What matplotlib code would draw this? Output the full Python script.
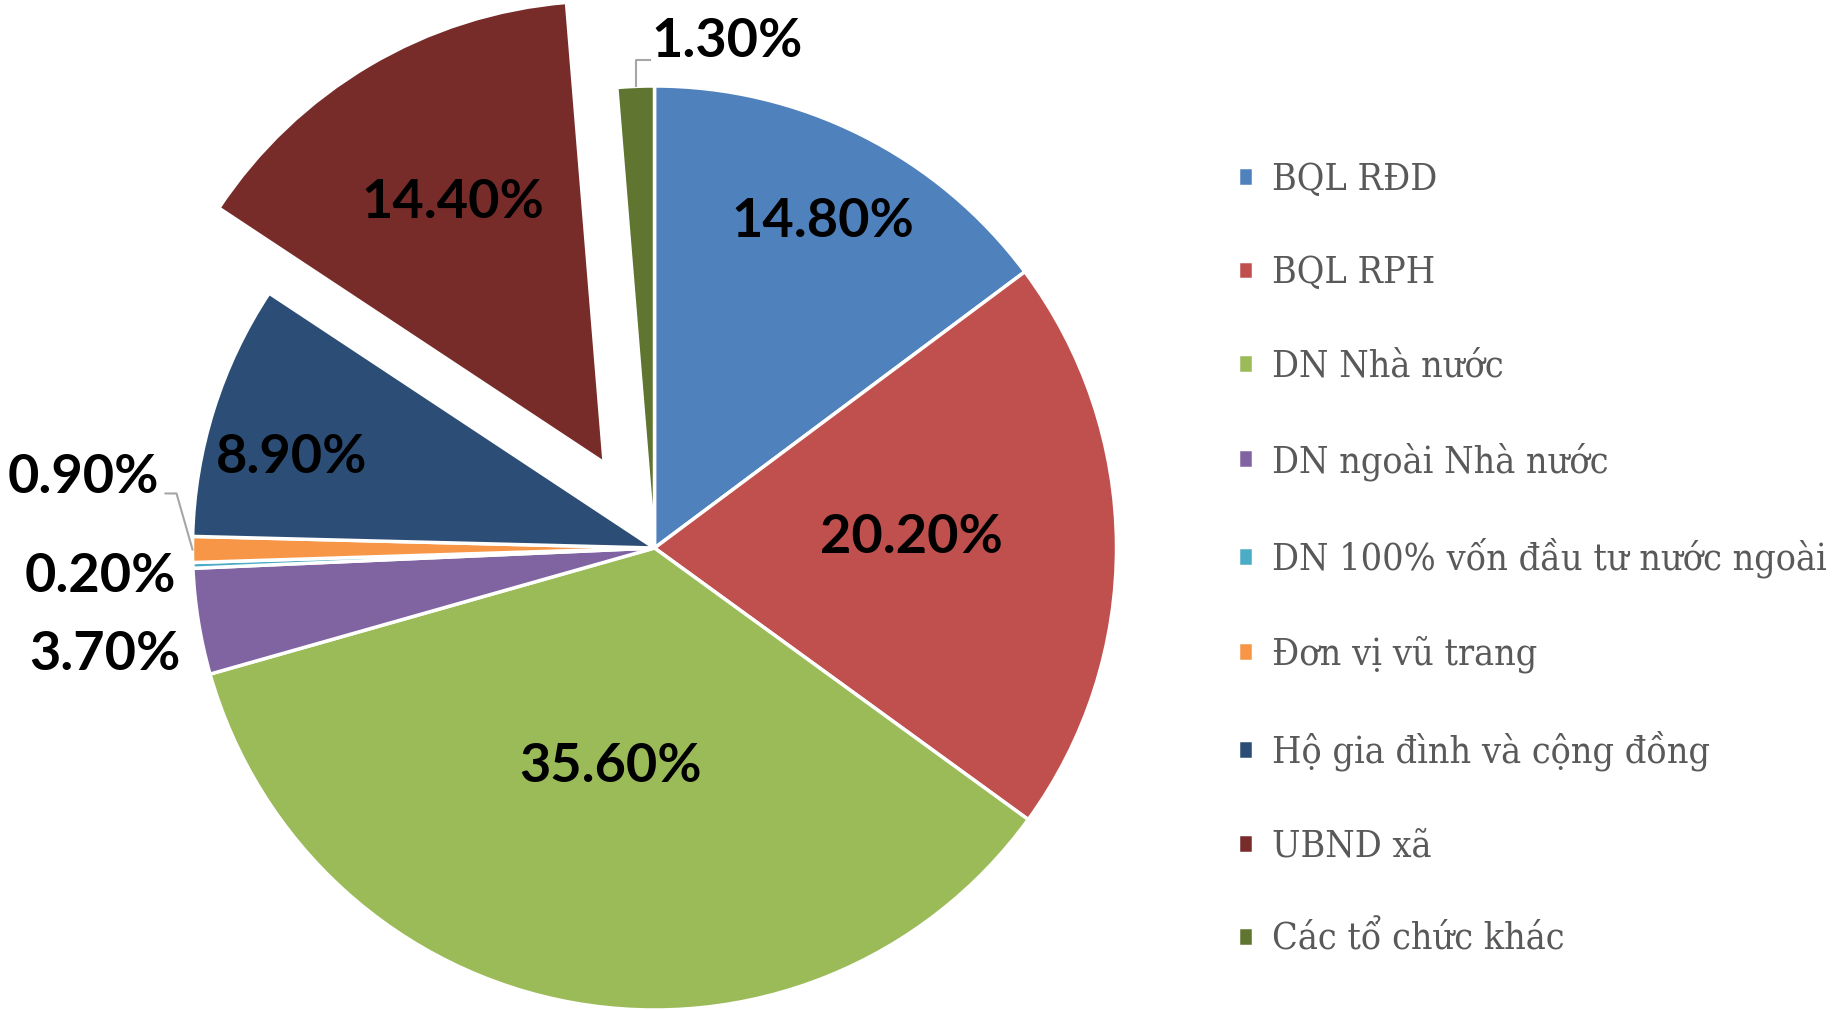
import numpy as np
import matplotlib
matplotlib.use("Agg")
import matplotlib.pyplot as plt

categories = ["BQL RĐD", "BQL RPH", "DN Nhà nước", "DN ngoài Nhà nước",
              "DN 100% vốn đầu tư nước ngoài", "Đơn vị vũ trang",
              "Hộ gia đình và cộng đồng", "UBND xã", "Các tổ chức khác"]
values = [14.8, 20.2, 35.6, 3.7, 0.2, 0.9, 8.9, 14.4, 1.3]
labels = ["14.80%", "20.20%", "35.60%", "3.70%", "0.20%", "0.90%", "8.90%", "14.40%", "1.30%"]

colors = ["#4F81BD", "#C0504D", "#9BBB59", "#8064A2", "#4BACC6",
          "#F79646", "#2C4D75", "#772C2A", "#5F7530"]
explode_frac = [0, 0, 0, 0, 0, 0, 0, 0.214, 0]
# label baseline-centre offsets from each wedge's centre, in units of the radius
label_offsets = [(0.364, 0.673), (0.556, -0.011), (-0.095, -0.506), (-1.189, -0.264),
                 (-1.199, -0.095), (-1.236, 0.119), (-0.785, 0.162), (-0.327, 0.530),
                 (0.157, 1.063)]

W, H = 1849, 1010
fig = plt.figure(figsize=(W / 100, H / 100), dpi=100)
ax = fig.add_axes([0, 0, 1, 1])

R = 462
C = (654.5, H - 548)
wedges, _ = ax.pie(values, colors=colors, startangle=90, counterclock=False,
                   explode=[e * R for e in explode_frac], radius=R, center=C,
                   wedgeprops=dict(edgecolor="white", linewidth=2.5))
ax.set_xlim(0, W)
ax.set_ylim(0, H)
ax.set_aspect("equal")
ax.axis("off")

label_font = dict(family=["Lato", "DejaVu Sans"], fontweight="bold", fontsize=39, color="black")
for w, lab, (dx, dy) in zip(wedges, labels, label_offsets):
    cx, cy = w.center
    ax.text(cx + dx * R, cy + dy * R, lab, ha="center", va="baseline", **label_font)

# leader lines
lc = "#A6A6A6"
# 1.30%
w = wedges[8]
mid = np.deg2rad((w.theta1 + w.theta2) / 2)
x0, y0 = C[0] + R * np.cos(mid), C[1] + R * np.sin(mid)
ax.plot([x0, x0, x0 + 14], [y0, y0 + 26, y0 + 26], color=lc, lw=1.5)
# 0.90%
w = wedges[5]
mid = np.deg2rad((w.theta1 + w.theta2) / 2)
x0, y0 = C[0] + R * np.cos(mid), C[1] + R * np.sin(mid)
ax.plot([x0, x0 - 16, x0 - 27], [y0, y0 + 56, y0 + 56], color=lc, lw=1.5)

leg = ax.legend(wedges, categories, loc="upper left", bbox_to_anchor=(1238 / W, 1 - 162 / H),
                bbox_transform=fig.transFigure, frameon=False,
                prop=dict(family="DejaVu Serif", stretch="condensed", size=27),
                handlelength=0.4, handleheight=0.4, handletextpad=0.52,
                labelspacing=1.53, borderpad=0, borderaxespad=0)
for t in leg.get_texts():
    t.set_color("#595959")

fig.savefig("out.png", dpi=100)
